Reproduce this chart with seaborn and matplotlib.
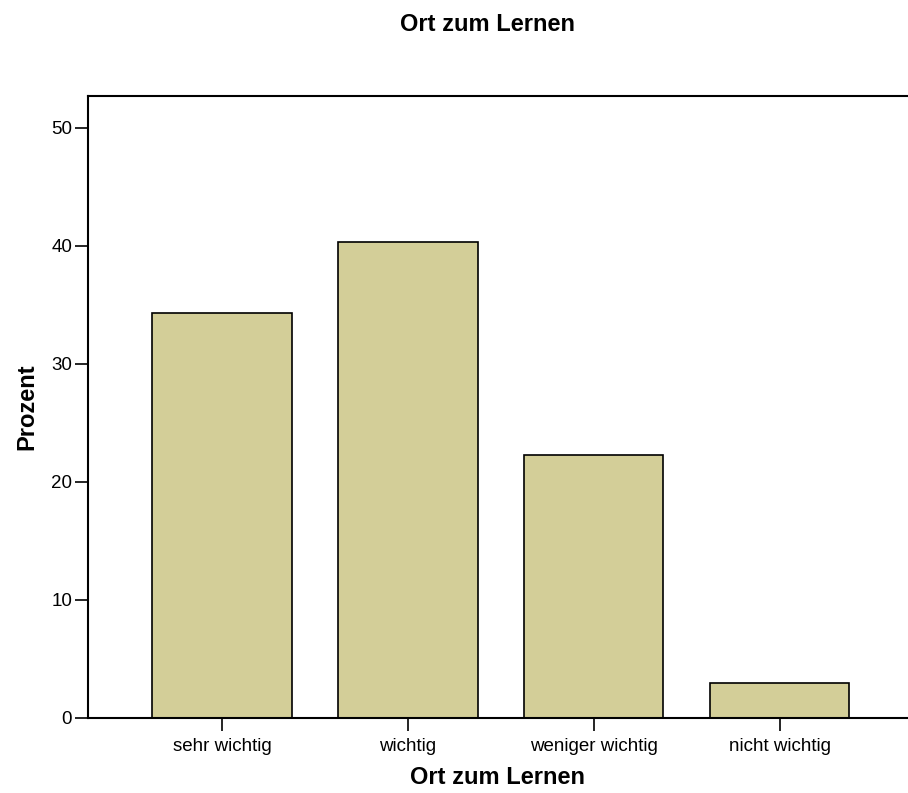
import matplotlib
matplotlib.use("Agg")
import matplotlib.pyplot as plt
import seaborn as sns
import pandas as pd

# data
categories = ["sehr wichtig", "wichtig", "weniger wichtig", "nicht wichtig"]
percent = [34.3, 40.3, 22.3, 3.0]

df = pd.DataFrame({"kategorie": categories, "prozent": percent})

sns.set_style("white")
plt.rcParams['font.family'] = ['Liberation Sans', 'DejaVu Sans']
plt.rcParams['text.color'] = 'black'
plt.rcParams['axes.labelcolor'] = 'black'

fig = plt.figure(figsize=(9.08, 7.93), dpi=100)
ax = fig.add_axes([88 / 908, 75 / 793, 1 - 88 / 908, (718 - 96) / 793])

sns.barplot(data=df, x="kategorie", y="prozent", order=categories,
            color="#d3ce98", saturation=1, width=0.75,
            edgecolor="black", linewidth=1.2, ax=ax)

ax.set_xlim(-0.72, 3.69)
ax.set_ylim(0, 52.7)
ax.set_yticks([0, 10, 20, 30, 40, 50])

for side in ["left", "top", "bottom"]:
    ax.spines[side].set_visible(True)
    ax.spines[side].set_linewidth(1.5)
    ax.spines[side].set_color("black")
ax.spines["right"].set_visible(False)

ax.tick_params(axis="both", direction="out", length=9.5, width=1.2,
               color="black", labelsize=13.5, labelcolor="black")
ax.tick_params(axis="y", pad=2)
ax.tick_params(axis="x", pad=5)
ax.tick_params(left=True, bottom=True)

ax.set_xlabel("Ort zum Lernen", fontsize=17, fontweight="bold", labelpad=8,
              color="black")
ax.set_ylabel("Prozent", fontsize=17, fontweight="bold", labelpad=9,
              color="black")
fig.suptitle("Ort zum Lernen", x=(88 + 908) / 2 / 908 - 0.012, y=0.984,
             fontsize=17, fontweight="bold", color="black")

fig.savefig("out.png", dpi=100, facecolor="white")
